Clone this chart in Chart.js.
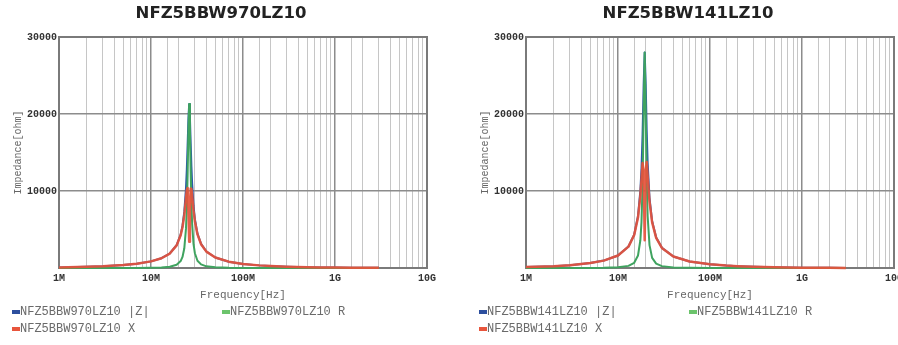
<!DOCTYPE html>
<html>
<head>
<meta charset="utf-8">
<script src="https://cdn.jsdelivr.net/npm/chart.js@4.4.1/dist/chart.umd.min.js"></script>
<style>
html, body { margin: 0; padding: 0; background: #fff; }
#wrap { position: relative; width: 898px; height: 345px; overflow: hidden; }
.panel { position: absolute; top: 0; width: 440px; height: 345px; }
#p1 { left: 0; }
#p2 { left: 467px; }
</style>
</head>
<body>
<div id="wrap">
  <div class="panel" id="p1"><canvas id="chartLeft"></canvas></div>
  <div class="panel" id="p2"><canvas id="chartRight"></canvas></div>
</div>
<script>
// valeurs (frequence en MHz, impedance en ohm)
const partLeft = 'NFZ5BBW970LZ10';
const freqLeft = [1,2,3,5,7,10,13,16,19,21,22,23,24,24.5,25,25.5,26,26.5,27,27.5,28,29,30,32,35,40,50,70,100,150,200,300,500,700,1000,1500,2000,3000];
const zLeft = [74,148,223,381,554,861,1270,1883,2964,4340,5490,7284,10361,12754,15897,19312,21300,19367,16155,13221,10973,8057,6338,4460,3129,2138,1358,822,532,341,252,167,99,71,50,33,25,17];
const rLeft = [0,1,2,7,15,35,77,169,418,897,1435,2526,5112,7746,12034,17761,21300,17862,12428,8323,5733,3091,1913,947,466,218,88,32,14,6,3,1,0,0,0,0,0,0];
const xLeft = [74,148,223,381,554,860,1268,1875,2935,4246,5300,6831,9013,10132,10387,7585,3400,7486,10322,10271,9357,7440,6042,4358,3094,2127,1355,821,532,341,252,167,99,71,50,33,25,17];

const partRight = 'NFZ5BBW141LZ10';
const freqRight = [1,2,3,5,7,10,13,15,16.5,17.5,18,18.5,19,19.5,20,20.5,21,22,23.5,26,30,40,60,100,150,200,300,500,700,1000,1500,2000,3000];
const zRight = [120,242,368,640,960,1621,2786,4343,6745,10044,12916,17371,23761,28000,23927,17918,13709,9122,6071,3960,2616,1490,847,473,309,230,152,91,65,46,30,23,15];
const rRight = [1,2,5,15,33,94,277,674,1625,3603,5959,10777,20158,28000,20448,11466,6715,2972,1316,560,244,79,26,8,3,2,1,0,0,0,0,0,0];
const xRight = [120,242,368,640,960,1618,2772,4290,6546,9375,11459,13623,12579,3600,12426,13770,11952,8624,5926,3920,2605,1488,847,473,309,230,152,91,65,46,30,23,15];

// graduations
const xTickValues = [1, 10, 100, 1000, 10000];
const xTickLabels = ['1M', '10M', '100M', '1G', '10G'];
const yTickValues = [10000, 20000, 30000];
const yTickLabels = ['10000', '20000', '30000'];

const monoFont = '"Liberation Mono", "DejaVu Sans Mono", monospace';

function isDecade(v) {
    const l = Math.log10(v);
    return Math.abs(l - Math.round(l)) < 1e-9;
}

function toPoints(freq, vals) {
    return freq.map((f, i) => ({ x: f, y: vals[i] }));
}

// legende en bas, deux colonnes comme sur l'original
const legendSpots = [[12, 312], [222, 312], [12, 329]];
const bottomLegend = {
    id: 'bottomLegend',
    afterDraw(chart) {
        const ctx = chart.ctx;
        ctx.save();
        ctx.font = '12px ' + monoFont;
        ctx.textBaseline = 'middle';
        chart.data.datasets.forEach((ds, i) => {
            const [x, y] = legendSpots[i];
            ctx.fillStyle = ds.legendColor;
            ctx.fillRect(x, y - 2, 8, 4);
            ctx.fillStyle = '#6a6a6a';
            ctx.fillText(ds.label, x + 8, y);
        });
        ctx.restore();
    }
};

// cadre du graphe
const plotFrame = {
    id: 'plotFrame',
    beforeDatasetsDraw(chart) {
        const { ctx, chartArea: a } = chart;
        ctx.save();
        ctx.strokeStyle = '#7a7a7a';
        ctx.lineWidth = 2;
        ctx.strokeRect(a.left, a.top, a.right - a.left, a.bottom - a.top);
        ctx.restore();
    }
};

function makeChart(canvasId, part, freq, z, r, x) {
    const ctx = document.getElementById(canvasId).getContext('2d');
    return new Chart(ctx, {
        type: 'line',
        data: {
            datasets: [
                { label: part + ' |Z|', data: toPoints(freq, z), borderColor: '#2a5aa8', legendColor: '#2d4f9e', borderWidth: 2, order: 2 },
                { label: part + ' R', data: toPoints(freq, r), borderColor: '#3fa35f', legendColor: '#6cc46c', borderWidth: 2, order: 1 },
                { label: part + ' X', data: toPoints(freq, x), borderColor: 'rgba(230, 82, 60, 0.92)', legendColor: '#e8553c', borderWidth: 2.5, order: 0 }
            ]
        },
        options: {
            responsive: true,
            maintainAspectRatio: false,
            animation: false,
            layout: { padding: { left: 12, right: 10, top: 0, bottom: 43 } },
            elements: {
                point: { radius: 0 },
                line: { tension: 0, borderJoinStyle: 'round' }
            },
            datasets: { line: { clip: false } },
            plugins: {
                legend: { display: false },
                tooltip: { enabled: false },
                title: {
                    display: true,
                    text: part,
                    color: '#222',
                    font: { family: '"DejaVu Sans", sans-serif', size: 16.5, weight: 'bold' },
                    padding: { top: 4, bottom: 13.2 }
                }
            },
            scales: {
                x: {
                    type: 'logarithmic',
                    min: 1,
                    max: 10000,
                    afterFit: s => { s.height = 34; },
                    ticks: {
                        autoSkip: false,
                        maxRotation: 0,
                        padding: 4,
                        color: '#333',
                        font: { family: monoFont, size: 10, weight: 'bold' },
                        callback: v => {
                            const k = xTickValues.findIndex(t => Math.abs(t - v) < 1e-6);
                            return k >= 0 ? xTickLabels[k] : '';
                        }
                    },
                    grid: {
                        drawTicks: false,
                        color: c => isDecade(c.tick.value) ? '#8c8c8c' : '#c6c6c6',
                        lineWidth: c => isDecade(c.tick.value) ? 1.5 : 1
                    },
                    border: { color: '#7a7a7a', width: 2 },
                    title: {
                        display: true,
                        text: 'Frequency[Hz]',
                        color: '#666',
                        font: { family: monoFont, size: 11 },
                        padding: { top: 0, bottom: 0 }
                    }
                },
                y: {
                    min: 0,
                    max: 30000,
                    afterFit: s => { s.width = 47; },
                    ticks: {
                        stepSize: 10000,
                        padding: 2,
                        color: '#333',
                        font: { family: monoFont, size: 10, weight: 'bold' },
                        callback: v => {
                            const k = yTickValues.indexOf(v);
                            return k >= 0 ? yTickLabels[k] : '';
                        }
                    },
                    grid: { drawTicks: false, color: '#8c8c8c', lineWidth: 1.5 },
                    border: { color: '#7a7a7a', width: 2 },
                    title: {
                        display: true,
                        text: 'Impedance[ohm]',
                        color: '#666',
                        font: { family: monoFont, size: 10 },
                        padding: { top: 0, bottom: 0 }
                    }
                }
            }
        },
        plugins: [plotFrame, bottomLegend]
    });
}

makeChart('chartLeft', partLeft, freqLeft, zLeft, rLeft, xLeft);
makeChart('chartRight', partRight, freqRight, zRight, rRight, xRight);
</script>
</body>
</html>
